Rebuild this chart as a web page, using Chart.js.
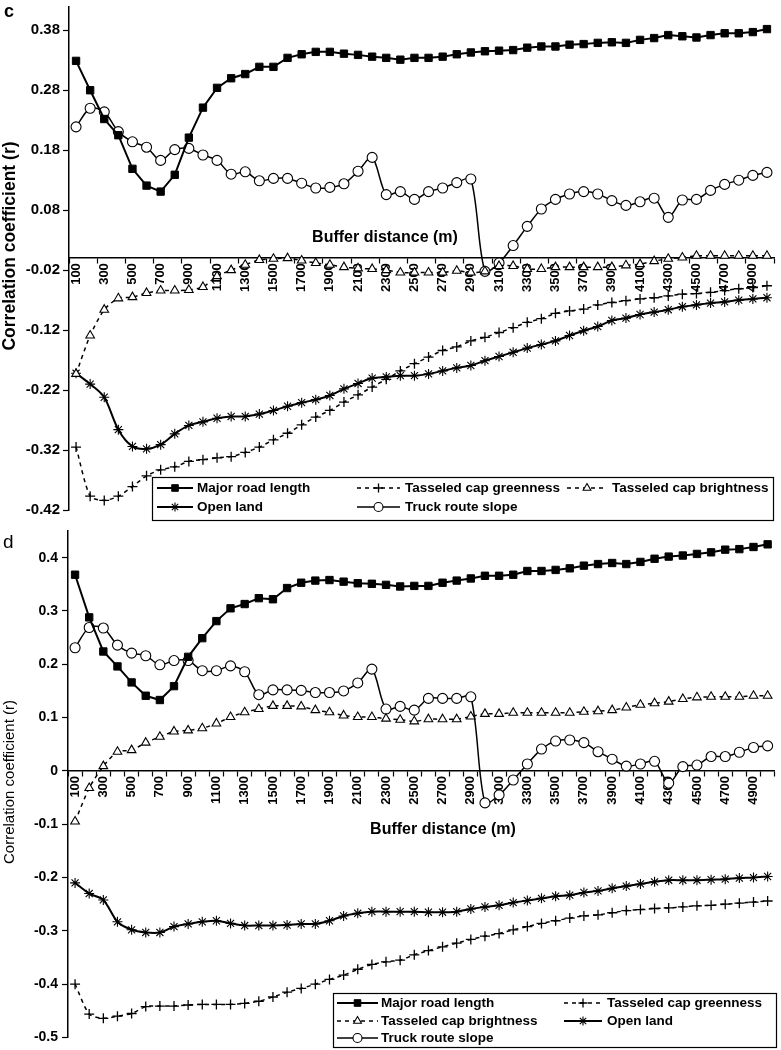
<!DOCTYPE html>
<html>
<head>
<meta charset="utf-8">
<script src="https://cdn.jsdelivr.net/npm/chart.js@4.4.1/dist/chart.umd.min.js"></script>
<style>
  body { margin: 0; background: #fff; }
  canvas { position: absolute; left: 0; display: block; }
  #chartC { top: 0; }
  #chartD { top: 522px; }
</style>
</head>
<body>
<canvas id="chartC" width="781" height="522"></canvas>
<canvas id="chartD" width="781" height="528"></canvas>
<script>
const FONT = '"Liberation Sans", Arial, sans-serif';

// buffer distances (m)
const distances = [
  100, 200, 300, 400, 500, 600, 700, 800, 900, 1000,
  1100, 1200, 1300, 1400, 1500, 1600, 1700, 1800, 1900, 2000,
  2100, 2200, 2300, 2400, 2500, 2600, 2700, 2800, 2900, 3000,
  3100, 3200, 3300, 3400, 3500, 3600, 3700, 3800, 3900, 4000,
  4100, 4200, 4300, 4400, 4500, 4600, 4700, 4800, 4900, 5000,
];

//! panel c
const cMajorRoad = [
  0.329, 0.280, 0.232, 0.205, 0.149, 0.121, 0.111, 0.139, 0.201, 0.251,
  0.284, 0.300, 0.307, 0.319, 0.319, 0.334, 0.340, 0.344, 0.344, 0.341,
  0.339, 0.336, 0.334, 0.331, 0.334, 0.334, 0.336, 0.340, 0.343, 0.345,
  0.346, 0.347, 0.351, 0.353, 0.353, 0.356, 0.357, 0.359, 0.360, 0.359,
  0.364, 0.367, 0.372, 0.370, 0.368, 0.372, 0.375, 0.375, 0.377, 0.382,
];
const cGreenness = [
  -0.315, -0.397, -0.404, -0.397, -0.381, -0.363, -0.353, -0.348, -0.339, -0.336,
  -0.333, -0.331, -0.324, -0.315, -0.303, -0.292, -0.278, -0.265, -0.254, -0.240,
  -0.228, -0.215, -0.202, -0.188, -0.176, -0.165, -0.154, -0.148, -0.138, -0.132,
  -0.124, -0.116, -0.107, -0.101, -0.092, -0.088, -0.085, -0.078, -0.074, -0.071,
  -0.068, -0.066, -0.063, -0.060, -0.059, -0.057, -0.054, -0.051, -0.049, -0.046,
];
const cBrightness = [
  -0.193, -0.129, -0.086, -0.067, -0.065, -0.058, -0.054, -0.054, -0.053, -0.048,
  -0.030, -0.020, -0.011, -0.003, -0.001, 0.000, -0.004, -0.008, -0.011, -0.015,
  -0.017, -0.018, -0.020, -0.024, -0.024, -0.024, -0.024, -0.021, -0.024, -0.022,
  -0.013, -0.013, -0.018, -0.018, -0.015, -0.015, -0.015, -0.015, -0.015, -0.012,
  -0.010, -0.005, -0.001, 0.001, 0.004, 0.004, 0.004, 0.004, 0.004, 0.004,
];
const cOpenLand = [
  -0.192, -0.210, -0.232, -0.286, -0.314, -0.318, -0.311, -0.293, -0.279, -0.273,
  -0.267, -0.264, -0.264, -0.260, -0.254, -0.247, -0.241, -0.236, -0.229, -0.218,
  -0.209, -0.200, -0.198, -0.196, -0.196, -0.193, -0.188, -0.183, -0.179, -0.171,
  -0.164, -0.157, -0.150, -0.144, -0.138, -0.129, -0.121, -0.114, -0.104, -0.100,
  -0.094, -0.090, -0.086, -0.081, -0.078, -0.075, -0.073, -0.070, -0.068, -0.066,
];
const cTruckSlope = [
  0.219, 0.250, 0.244, 0.211, 0.194, 0.185, 0.163, 0.181, 0.183, 0.172,
  0.163, 0.140, 0.144, 0.129, 0.133, 0.133, 0.125, 0.117, 0.118, 0.124,
  0.145, 0.168, 0.106, 0.111, 0.098, 0.111, 0.117, 0.126, 0.132, -0.022,
  -0.008, 0.021, 0.053, 0.082, 0.098, 0.107, 0.111, 0.107, 0.096, 0.088,
  0.094, 0.100, 0.068, 0.097, 0.098, 0.113, 0.123, 0.130, 0.138, 0.143,
];
const cYTicks = [-0.42, -0.32, -0.22, -0.12, -0.02, 0.08, 0.18, 0.28, 0.38];

//! panel d
const dMajorRoad = [
  0.368, 0.288, 0.224, 0.196, 0.166, 0.141, 0.133, 0.159, 0.214, 0.249,
  0.281, 0.305, 0.313, 0.324, 0.322, 0.343, 0.353, 0.357, 0.358, 0.355,
  0.352, 0.351, 0.349, 0.346, 0.347, 0.347, 0.353, 0.357, 0.361, 0.366,
  0.366, 0.368, 0.375, 0.375, 0.377, 0.380, 0.385, 0.388, 0.390, 0.388,
  0.392, 0.398, 0.402, 0.404, 0.407, 0.410, 0.415, 0.416, 0.420, 0.425,
];
const dGreenness = [
  -0.400, -0.456, -0.464, -0.460, -0.455, -0.442, -0.441, -0.441, -0.439, -0.438,
  -0.438, -0.438, -0.436, -0.432, -0.424, -0.415, -0.408, -0.400, -0.391, -0.383,
  -0.372, -0.363, -0.358, -0.355, -0.345, -0.337, -0.330, -0.323, -0.316, -0.310,
  -0.305, -0.298, -0.292, -0.286, -0.281, -0.276, -0.272, -0.270, -0.266, -0.262,
  -0.260, -0.258, -0.257, -0.255, -0.253, -0.252, -0.250, -0.248, -0.246, -0.244,
];
const dBrightness = [
  -0.095, -0.032, 0.009, 0.036, 0.039, 0.053, 0.064, 0.074, 0.076, 0.080,
  0.089, 0.101, 0.110, 0.116, 0.122, 0.122, 0.121, 0.114, 0.110, 0.104,
  0.101, 0.101, 0.098, 0.096, 0.093, 0.097, 0.097, 0.097, 0.102, 0.107,
  0.107, 0.109, 0.109, 0.109, 0.109, 0.109, 0.111, 0.112, 0.114, 0.119,
  0.124, 0.127, 0.130, 0.135, 0.138, 0.139, 0.139, 0.139, 0.141, 0.141,
];
const dOpenLand = [
  -0.210, -0.230, -0.242, -0.283, -0.298, -0.303, -0.303, -0.292, -0.287, -0.283,
  -0.281, -0.286, -0.290, -0.290, -0.290, -0.289, -0.287, -0.287, -0.281, -0.272,
  -0.267, -0.264, -0.264, -0.264, -0.264, -0.265, -0.265, -0.264, -0.259, -0.255,
  -0.252, -0.247, -0.243, -0.239, -0.235, -0.233, -0.228, -0.225, -0.220, -0.216,
  -0.212, -0.208, -0.205, -0.205, -0.205, -0.204, -0.203, -0.201, -0.200, -0.198,
];
const dTruckSlope = [
  0.231, 0.269, 0.268, 0.236, 0.221, 0.216, 0.199, 0.207, 0.207, 0.188,
  0.188, 0.197, 0.186, 0.143, 0.152, 0.152, 0.151, 0.147, 0.147, 0.150,
  0.165, 0.191, 0.116, 0.121, 0.114, 0.136, 0.136, 0.136, 0.139, -0.060,
  -0.045, -0.017, 0.013, 0.041, 0.056, 0.058, 0.053, 0.036, 0.022, 0.009,
  0.013, 0.018, -0.023, 0.008, 0.011, 0.027, 0.027, 0.035, 0.044, 0.047,
];
const dYTicks = [-0.5, -0.4, -0.3, -0.2, -0.1, 0, 0.1, 0.2, 0.3, 0.4];

Chart.defaults.font.family = FONT;
Chart.defaults.color = "#000";

function makeDatasets(major, green, bright, open, truck) {
  return [
    {
      label: "Major road length", data: major,
      borderColor: "#000", borderWidth: 2, tension: 0,
      pointStyle: "rect", pointRadius: 5.2,
      pointBackgroundColor: "#000", pointBorderColor: "#000", pointBorderWidth: 1,
    },
    {
      label: "Tasseled cap greenness", data: green,
      borderColor: "#000", borderWidth: 1.5, borderDash: [4, 4], tension: 0.25,
      pointStyle: "cross", pointRadius: 5,
      pointBackgroundColor: "#fff", pointBorderColor: "#000", pointBorderWidth: 1.3,
    },
    {
      label: "Tasseled cap brightness", data: bright,
      borderColor: "#000", borderWidth: 1.5, borderDash: [4, 4], tension: 0.25,
      pointStyle: "triangle", pointRadius: 5,
      pointBackgroundColor: "#fff", pointBorderColor: "#000", pointBorderWidth: 1.1,
    },
    {
      label: "Open land", data: open,
      borderColor: "#000", borderWidth: 2, tension: 0.3,
      pointStyle: "star", pointRadius: 5,
      pointBackgroundColor: "#fff", pointBorderColor: "#000", pointBorderWidth: 1.1,
    },
    {
      label: "Truck route slope", data: truck,
      borderColor: "#000", borderWidth: 1.5, tension: 0.3,
      pointStyle: "circle", pointRadius: 5,
      pointBackgroundColor: "#fff", pointBorderColor: "#000", pointBorderWidth: 1.1,
    },
  ];
}

function drawSample(ctx, ds, x1, x2, y) {
  ctx.save();
  ctx.strokeStyle = ds.borderColor;
  ctx.lineWidth = ds.borderWidth;
  ctx.setLineDash(ds.borderDash || []);
  ctx.beginPath();
  ctx.moveTo(x1, y);
  ctx.lineTo(x2, y);
  ctx.stroke();
  ctx.setLineDash([]);
  ctx.fillStyle = ds.pointBackgroundColor;
  ctx.strokeStyle = ds.pointBorderColor;
  ctx.lineWidth = ds.pointBorderWidth;
  Chart.helpers.drawPoint(ctx, {
    pointStyle: ds.pointStyle, radius: ds.pointRadius * 0.9,
    rotation: 0, borderWidth: ds.pointBorderWidth,
  }, (x1 + x2) / 2, y);
  ctx.restore();
}

// titles, panel letter and boxed legend
function decorPlugin(cfg) {
  return {
    id: "decor",
    afterDraw(chart) {
      const ctx = chart.ctx;
      ctx.save();
      ctx.fillStyle = "#000";
      ctx.font = cfg.letter.font;
      ctx.textAlign = "left";
      ctx.textBaseline = "alphabetic";
      ctx.fillText(cfg.letter.text, cfg.letter.x, cfg.letter.y);

      ctx.font = cfg.xTitle.font;
      ctx.textAlign = "center";
      ctx.textBaseline = "middle";
      ctx.fillText(cfg.xTitle.text, cfg.xTitle.x, cfg.xTitle.y);

      ctx.save();
      ctx.translate(cfg.yTitle.x, cfg.yTitle.y);
      ctx.rotate(-Math.PI / 2);
      ctx.font = cfg.yTitle.font;
      ctx.fillText(cfg.yTitle.text, 0, 0);
      ctx.restore();

      const lg = cfg.legend;
      ctx.fillStyle = "#fff";
      ctx.fillRect(lg.left, lg.top, lg.right - lg.left, lg.bottom - lg.top);
      ctx.strokeStyle = "#000";
      ctx.lineWidth = 1.2;
      ctx.strokeRect(lg.left + 0.5, lg.top + 0.5, lg.right - lg.left, lg.bottom - lg.top);
      lg.items.forEach((it) => {
        const ds = chart.data.datasets[it.ds];
        drawSample(ctx, ds, it.x1, it.x2, it.y);
        ctx.fillStyle = "#000";
        ctx.font = lg.font;
        ctx.textAlign = "left";
        ctx.textBaseline = "middle";
        ctx.fillText(ds.label, it.tx, it.y + 0.5);
      });
      ctx.restore();
    },
  };
}

function makeChart(id, o) {
  return new Chart(document.getElementById(id).getContext("2d"), {
    type: "line",
    data: {
      labels: distances.map(String),
      datasets: makeDatasets(...o.series),
    },
    options: {
      responsive: false,
      animation: false,
      layout: { padding: o.padding },
      plugins: { legend: { display: false }, tooltip: { enabled: false } },
      scales: {
        x: {
          type: "category",
          offset: true,
          position: { y: 0 },
          border: { display: true, color: "#000", width: 1.5 },
          grid: {
            offset: true,
            drawOnChartArea: false,
            drawTicks: true,
            tickLength: 5,
            tickWidth: 1.2,
            tickColor: (ctx) =>
              ctx.type !== "tick" || ctx.index % o.tickEvery === 0 ? "#000" : "rgba(0,0,0,0)",
          },
          ticks: {
            autoSkip: false,
            minRotation: 90,
            maxRotation: 90,
            padding: 0,
            font: { size: 13, weight: "bold" },
            color: "#000",
            callback: (value, index) => (index % 2 === 0 ? String(distances[index]) : ""),
          },
          afterFit: (scale) => {
            scale.paddingLeft = 0;
            scale.paddingRight = 0;
          },
        },
        y: {
          min: o.yMin,
          max: o.yMax,
          border: { display: true, color: "#000", width: 1.5 },
          grid: { drawOnChartArea: false, drawTicks: true, tickLength: 6, color: "#000", tickWidth: 1.2 },
          ticks: {
            padding: o.yTickPad,
            font: o.yTickFont,
            color: "#000",
            callback: o.yFormat,
          },
          afterBuildTicks: (scale) => {
            scale.ticks = o.yTicks.map((v) => ({ value: v }));
          },
          afterFit: (scale) => {
            scale.width = o.yWidth;
            scale.paddingTop = 0;
            scale.paddingBottom = 0;
          },
        },
      },
    },
    plugins: [decorPlugin(o.decor)],
  });
}

const chartC = makeChart("chartC", {
  series: [cMajorRoad, cGreenness, cBrightness, cOpenLand, cTruckSlope],
  padding: { top: 5, right: 7, bottom: 12, left: 0 },
  yMin: -0.42, yMax: 0.42, yTicks: cYTicks, yWidth: 69, yTickPad: 3,
  yTickFont: { size: 15, weight: "bold" },
  yFormat: (v) => v.toFixed(2),
  tickEvery: 2,
  decor: {
    letter: { text: "c", x: 4, y: 17, font: "bold 18px " + FONT },
    xTitle: { text: "Buffer distance (m)", x: 385, y: 238, font: "bold 16px " + FONT },
    yTitle: { text: "Correlation coefficient (r)", x: 10, y: 246, font: "bold 17.5px " + FONT },
    legend: {
      left: 152, top: 477, right: 773, bottom: 520,
      font: "bold 13.5px " + FONT,
      items: [
        { ds: 0, x1: 157, x2: 193, tx: 197, y: 488 },
        { ds: 1, x1: 357, x2: 400, tx: 405, y: 488 },
        { ds: 2, x1: 567, x2: 607, tx: 612, y: 488 },
        { ds: 3, x1: 157, x2: 193, tx: 197, y: 507 },
        { ds: 4, x1: 357, x2: 400, tx: 405, y: 507 },
      ],
    },
  },
});

const chartD = makeChart("chartD", {
  series: [dMajorRoad, dGreenness, dBrightness, dOpenLand, dTruckSlope],
  padding: { top: 9, right: 4, bottom: 12.5, left: 0 },
  yMin: -0.5, yMax: 0.45, yTicks: dYTicks, yWidth: 68, yTickPad: 4,
  yTickFont: { size: 14, weight: "bold" },
  yFormat: (v) => (v === 0 ? "0" : String(v)),
  tickEvery: 1,
  decor: {
    letter: { text: "d", x: 3, y: 26, font: "19px " + FONT },
    xTitle: { text: "Buffer distance (m)", x: 443, y: 308, font: "bold 16px " + FONT },
    yTitle: { text: "Correlation coefficient (r)", x: 10, y: 260, font: "15px " + FONT },
    legend: {
      left: 333, top: 471, right: 776, bottom: 525,
      font: "bold 13.5px " + FONT,
      items: [
        { ds: 0, x1: 337, x2: 378, tx: 381, y: 481 },
        { ds: 1, x1: 564, x2: 602, tx: 607, y: 481 },
        { ds: 2, x1: 337, x2: 378, tx: 381, y: 499 },
        { ds: 3, x1: 564, x2: 602, tx: 607, y: 499 },
        { ds: 4, x1: 337, x2: 378, tx: 381, y: 516 },
      ],
    },
  },
});
</script>
</body>
</html>
